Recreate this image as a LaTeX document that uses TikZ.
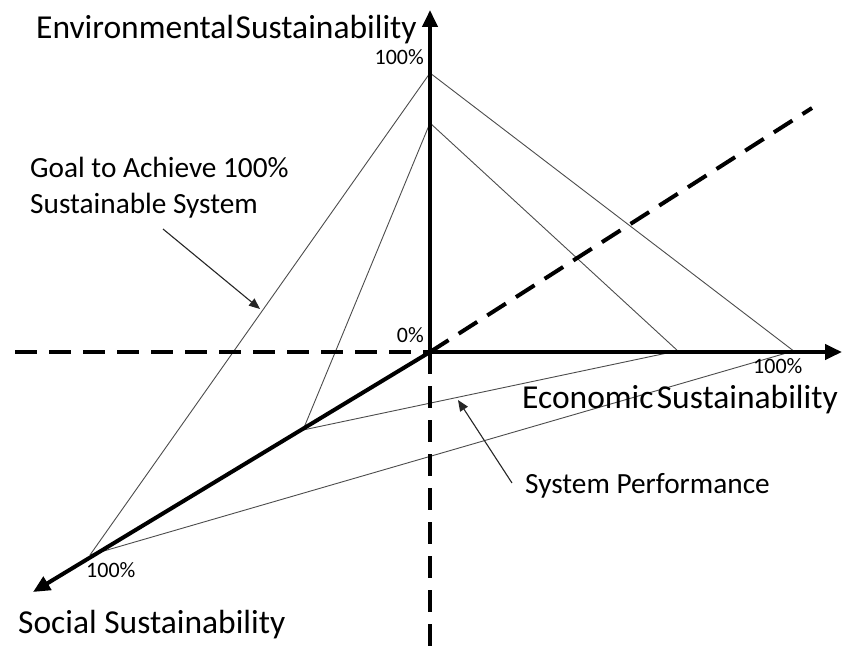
\documentclass[tikz,border=0pt]{standalone}
\usepackage{fontspec}
\setmainfont{Carlito}
\usetikzlibrary{arrows.meta}
\begin{document}
\begin{tikzpicture}[x=1pt,y=-1pt,
  axis/.style={line width=4pt,-{Triangle[length=17pt,width=15pt]}},
  axisd/.style={line width=4pt,dash pattern=on 22pt off 12pt},
  thin/.style={line width=0.9pt,draw=black!70},
  note/.style={line width=1.1pt,draw=black!85,-{Triangle[length=11pt,width=9pt]}},
  big/.style={font=\fontsize{33.5}{36}\selectfont,inner sep=0pt},
  mid/.style={font=\fontsize{29.3}{35}\selectfont,inner sep=0pt},
  pct/.style={font=\fontsize{22}{24}\selectfont,inner sep=0pt}]
\useasboundingbox (0,0) rectangle (842,647);
\coordinate (O) at (430,352);
\coordinate (Etip) at (430,10);
\coordinate (Xtip) at (842,352);
\coordinate (Stip) at (33,592);
\coordinate (Wend) at (15,352);
\coordinate (Dend) at (430,647);
\coordinate (Dg) at (812,108);
\coordinate (E100) at (430,73);
\coordinate (E1) at (430,123);
\coordinate (S100) at (90,555);
\coordinate (S1) at (303,430);
\coordinate (X100) at (795,352);
\coordinate (X1) at (679,352);
\coordinate (X2) at (790,352);
\coordinate (X3) at (672,352);
% thin triangle lines
\draw[thin] (S100) -- (E100) -- (X100);
\draw[thin] (S1) -- (E1) -- (X1);
\draw[thin] (S100) -- (X2);
\draw[thin] (S1) -- (X3);
% dashed axes
\draw[axisd] (Wend) -- (O);
\draw[axisd] (O) -- (Dend);
\draw[axisd] (O) -- (Dg);
% solid axes
\draw[axis] (O) -- (Etip);
\draw[axis] (O) -- (Xtip);
\draw[axis] (O) -- (Stip);
% labels
\node[big,anchor=base west] (env) at (36,39) {Environmental\hspace{0.05em}Sustainability};
\node[big,anchor=base west] (eco) at (522,408) {Economic\hspace{0.1em}Sustainability};
\node[big,anchor=base west] (soc) at (18,633) {Social Sustainability};
\node[pct,anchor=base east] (p1) at (424,65) {100\%};
\node[pct,anchor=base east] (p0) at (424,342) {0\%};
\node[pct,anchor=base west] (p2) at (753,373) {100\%};
\node[pct,anchor=base west] (p3) at (86,577) {100\%};
\node[mid,anchor=base west] (goal1) at (30,178) {Goal to Achieve 100\%};
\node[mid,anchor=base west] (goal2) at (30,213) {Sustainable System};
\node[mid,anchor=base west] (perf) at (525,493) {System Performance};
% annotation arrows
\coordinate (g0) at (163,229);
\coordinate (g1) at (260,309);
\coordinate (s0) at (512,483);
\coordinate (s1) at (458,400);
\draw[note] (g0) -- (g1);
\draw[note] (s0) -- (s1);
\end{tikzpicture}
\end{document}
